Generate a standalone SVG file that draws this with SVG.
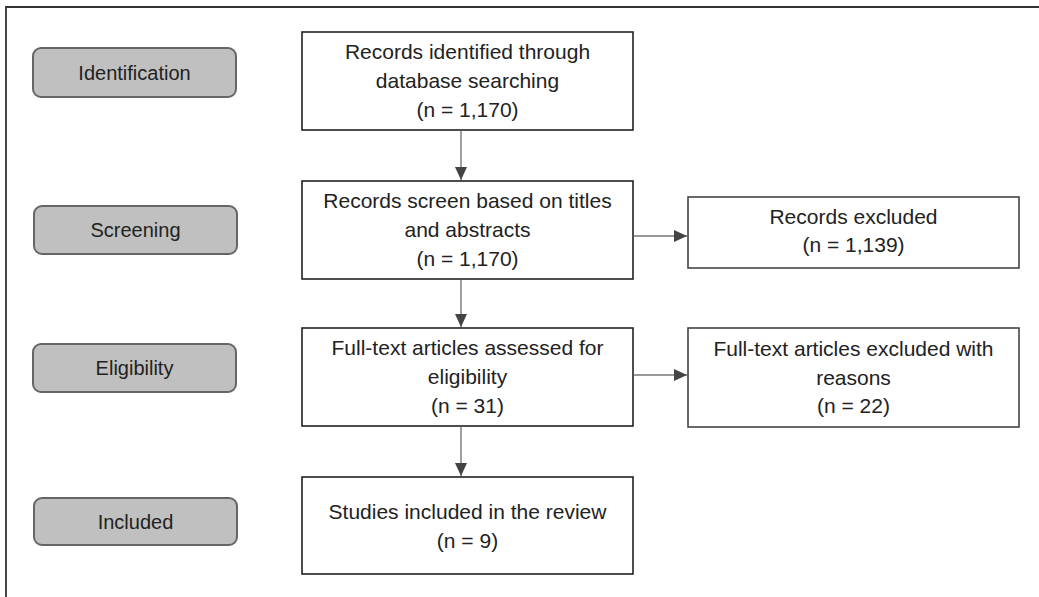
<svg xmlns="http://www.w3.org/2000/svg" width="1039" height="597" viewBox="0 0 1039 597">
<style>
  text { font-family: "Liberation Sans", Arial, sans-serif; fill: #222; text-anchor: middle; }
  .main { font-size: 21px; }
  .lab { font-size: 20px; }
  .stage { fill: #c0c0c0; stroke: #666; stroke-width: 2; }
  .box { fill: #fff; stroke: #222; stroke-width: 1.6; }
  .side { fill: #fff; stroke: #444; stroke-width: 1.6; }
  .conn { stroke: #777; stroke-width: 1.4; fill: none; }
</style>
<defs>
  <marker id="ah" markerWidth="13" markerHeight="12" refX="13" refY="6" orient="auto" markerUnits="userSpaceOnUse">
    <path d="M0,0 L13,6 L0,12 Z" fill="#444"/>
  </marker>
</defs>
<rect width="1039" height="597" fill="#fff"/>
<path d="M6,597 L6,7 L1039,7" fill="none" stroke="#333" stroke-width="1.8"/>

<g id="stage-identification">
  <rect class="stage" x="33" y="48" width="203" height="49" rx="8"/>
  <text class="lab" x="134.5" y="80">Identification</text>
</g>
<g id="stage-screening">
  <rect class="stage" x="34" y="206" width="203" height="48" rx="8"/>
  <text class="lab" x="135.5" y="237">Screening</text>
</g>
<g id="stage-eligibility">
  <rect class="stage" x="33" y="344" width="203" height="48" rx="8"/>
  <text class="lab" x="134.5" y="375">Eligibility</text>
</g>
<g id="stage-included">
  <rect class="stage" x="34" y="498" width="203" height="47" rx="8"/>
  <text class="lab" x="135.5" y="529">Included</text>
</g>

<g id="identified">
  <rect class="box" x="302" y="32" width="331" height="98"/>
  <text class="main" x="467.5" y="59">Records identified through</text>
  <text class="main" x="467.5" y="88">database searching</text>
  <text class="main" x="467.5" y="117">(n = 1,170)</text>
</g>
<g id="screened">
  <rect class="box" x="302" y="181" width="331" height="98"/>
  <text class="main" x="467.5" y="208">Records screen based on titles</text>
  <text class="main" x="467.5" y="237">and abstracts</text>
  <text class="main" x="467.5" y="266">(n = 1,170)</text>
</g>
<g id="excluded">
  <rect class="side" x="688" y="197" width="331" height="71"/>
  <text class="main" x="853.5" y="224">Records excluded</text>
  <text class="main" x="853.5" y="252">(n = 1,139)</text>
</g>
<g id="assessed">
  <rect class="box" x="302" y="328" width="331" height="98"/>
  <text class="main" x="467.5" y="355">Full-text articles assessed for</text>
  <text class="main" x="467.5" y="384">eligibility</text>
  <text class="main" x="467.5" y="413">(n = 31)</text>
</g>
<g id="fulltext-excluded">
  <rect class="side" x="688" y="328" width="331" height="99"/>
  <text class="main" x="853.5" y="356">Full-text articles excluded with</text>
  <text class="main" x="853.5" y="385">reasons</text>
  <text class="main" x="853.5" y="413">(n = 22)</text>
</g>
<g id="included">
  <rect class="box" x="302" y="477" width="331" height="97"/>
  <text class="main" x="467.5" y="519">Studies included in the review</text>
  <text class="main" x="467.5" y="548">(n = 9)</text>
</g>

<g id="connectors">
  <line class="conn" x1="461" y1="131" x2="461" y2="180" marker-end="url(#ah)"/>
  <line class="conn" x1="461" y1="280" x2="461" y2="327" marker-end="url(#ah)"/>
  <line class="conn" x1="461" y1="427" x2="461" y2="476" marker-end="url(#ah)"/>
  <line class="conn" x1="634" y1="236" x2="687" y2="236" marker-end="url(#ah)"/>
  <line class="conn" x1="634" y1="375" x2="687" y2="375" marker-end="url(#ah)"/>
</g>
</svg>
